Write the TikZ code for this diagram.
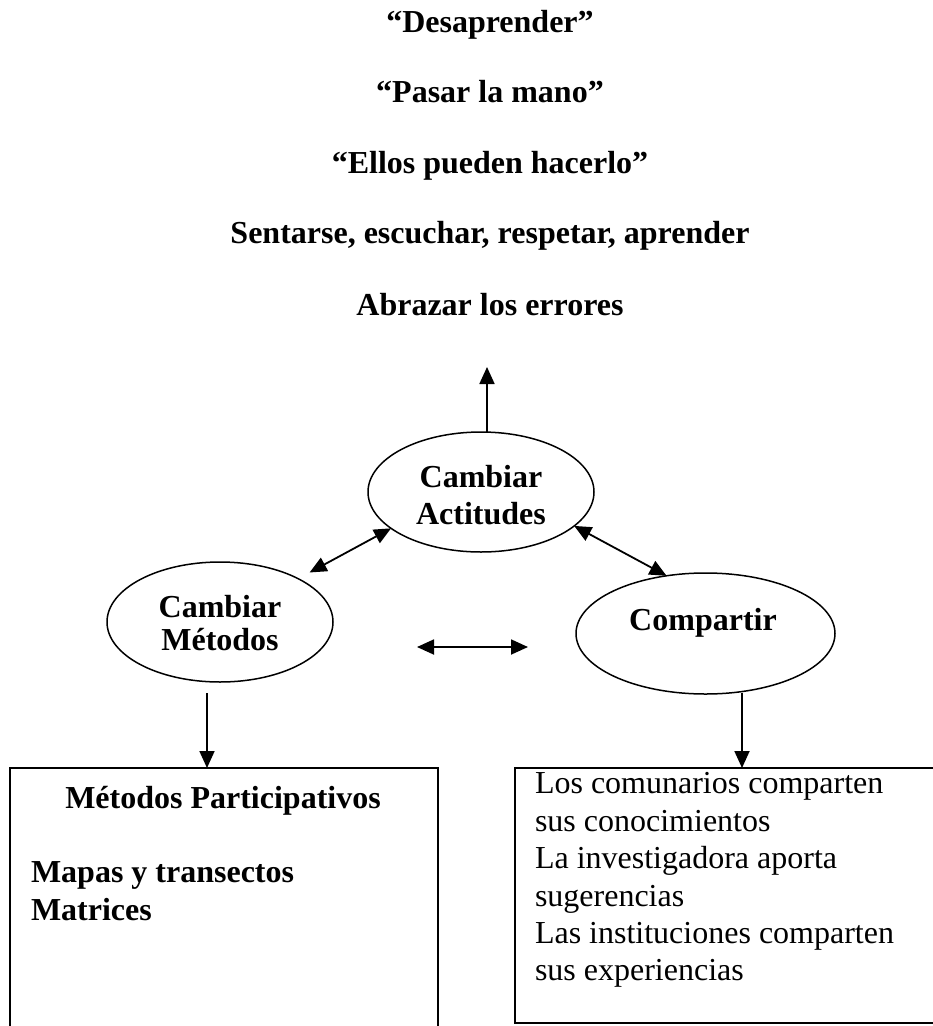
\documentclass[tikz,border=0pt]{standalone}
\usepackage{fontspec}
\setmainfont{Liberation Serif}
\usetikzlibrary{shapes.geometric,arrows.meta}
\begin{document}
\begin{tikzpicture}[x=1pt,y=-1pt,
  every node/.style={inner sep=0pt,outer sep=0pt},
  txt/.style={font=\fontsize{32}{37}\selectfont,anchor=base},
  btxt/.style={font=\fontsize{32}{37}\selectfont\bfseries,anchor=base},
  oval/.style={draw,ellipse,line width=1.5pt},
  boxed/.style={draw,line width=2pt,anchor=north west},
  arr/.style={line width=1.8pt,-{Triangle[length=17pt,width=15pt]}},
  dbl/.style={line width=1.8pt,{Triangle[length=17pt,width=15pt]}-{Triangle[length=17pt,width=15pt]}}]
\useasboundingbox[fill=white] (0,0) rectangle (933,1026);
% top texts
\node[btxt] (t1) at (490,32) {“Desaprender”};
\node[btxt] (t2) at (490,102) {“Pasar la mano”};
\node[btxt] (t3) at (490,173) {“Ellos pueden hacerlo”};
\node[btxt] (t4) at (490,243) {Sentarse, escuchar, respetar, aprender};
\node[btxt] (t5) at (490,315) {Abrazar los errores};
% ellipses
\node[oval,minimum width=226pt,minimum height=120pt] (act) at (481,492) {};
\node[btxt] (actA) at (481,487) {Cambiar};
\node[btxt] (actB) at (481,524) {Actitudes};
\node[oval,minimum width=226pt,minimum height=120pt] (met) at (220,622) {};
\node[btxt] (metA) at (220,617) {Cambiar};
\node[btxt] (metB) at (220,650) {Métodos};
\node[oval,minimum width=259pt,minimum height=121pt] (com) at (705.5,633.5) {};
\node[btxt] (comA) at (703,630) {Compartir};
% boxes
\node[boxed,minimum width=428pt,minimum height=290pt] (boxL) at (10,768) {};
\node[boxed,minimum width=460pt,minimum height=255pt] (boxR) at (515,768) {};
\node[btxt] (l1) at (223,808) {Métodos Participativos};
\node[btxt,anchor=base west] (l2) at (31,882) {Mapas y transectos};
\node[btxt,anchor=base west] (l3) at (31,920) {Matrices};
\node[txt,anchor=base west] (r1) at (535,793) {Los comunarios comparten};
\node[txt,anchor=base west] (r2) at (535,831) {sus conocimientos};
\node[txt,anchor=base west] (r3) at (535,868) {La investigadora aporta};
\node[txt,anchor=base west] (r4) at (535,906) {sugerencias};
\node[txt,anchor=base west] (r5) at (535,943) {Las instituciones comparten};
\node[txt,anchor=base west] (r6) at (535,980) {sus experiencias};
% free ends
\coordinate (uptip) at (487,367);
\coordinate (ml) at (417,647);
\coordinate (mr) at (528,647);
\coordinate (dl) at (207,693);
\coordinate (dr) at (742,693);
% connectors
\draw[arr] (act.north -| uptip) -- (uptip);
\draw[dbl,shorten <=13pt] (met.29) -- (act.202);
\draw[dbl] (act.340) -- (com.124);
\draw[dbl] (ml) -- (mr);
\draw[arr] (dl) -- (boxL.north -| dl);
\draw[arr] (dr) -- (boxR.north -| dr);
\end{tikzpicture}
\end{document}
